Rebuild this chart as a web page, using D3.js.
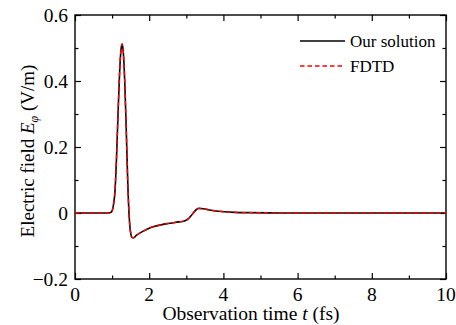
<!DOCTYPE html>
<html>
<head>
<meta charset="utf-8">
<script src="https://cdn.jsdelivr.net/npm/d3@7"></script>
<style>
  body { margin: 0; background: #fff; }
</style>
</head>
<body>
<svg id="chart" width="456" height="325" font-family="'Liberation Serif', Tinos, 'DejaVu Serif', serif"></svg>
<script>
const timeFs = [0, 0.5, 0.9, 0.98, 1.03, 1.08, 1.12, 1.16, 1.2, 1.24, 1.27, 1.3, 1.34, 1.38, 1.42, 1.46, 1.5, 1.54, 1.58, 1.65, 1.84, 2.0, 2.2, 2.5, 2.8, 2.95, 3.05, 3.15, 3.25, 3.33, 3.45, 3.6, 3.8, 4.0, 4.3, 4.7, 5.2, 6, 7, 8, 9, 10];
const ourSolution = [0, 0, 0, 0.003, 0.02, 0.07, 0.17, 0.3, 0.42, 0.495, 0.512, 0.49, 0.4, 0.26, 0.1, -0.01, -0.06, -0.074, -0.075, -0.068, -0.055, -0.046, -0.039, -0.032, -0.027, -0.024, -0.018, -0.005, 0.008, 0.014, 0.013, 0.01, 0.006, 0.004, 0.002, 0.001, 0.0005, 0, 0, 0, 0, 0];
const fdtd = [0, 0, 0, 0.003, 0.02, 0.07, 0.17, 0.3, 0.42, 0.495, 0.512, 0.49, 0.4, 0.26, 0.1, -0.01, -0.06, -0.074, -0.075, -0.068, -0.055, -0.046, -0.039, -0.032, -0.027, -0.024, -0.018, -0.005, 0.008, 0.014, 0.013, 0.01, 0.006, 0.004, 0.002, 0.001, 0.0005, 0, 0, 0, 0, 0];
const xTicks = [0, 2, 4, 6, 8, 10];
const yTicks = [-0.2, 0, 0.2, 0.4, 0.6];

const svg = d3.select('#chart');
const margin = { top: 15, right: 10, bottom: 46, left: 75 };
const width = +svg.attr('width');
const height = +svg.attr('height');

const x = d3.scaleLinear().domain([0, 10]).range([margin.left, width - margin.right]);
const y = d3.scaleLinear().domain([-0.2, 0.6]).range([height - margin.bottom, margin.top]);

const xMinor = d3.range(1, 10, 2);
const yMinor = [-0.1, 0.1, 0.3, 0.5];
const fmt = d => d === 0 ? '0' : d3.format('.1f')(d);

// inward ticks on all four sides
function tickAxis(axis, scale, values, size, transform) {
  svg.append('g')
    .attr('transform', transform)
    .call(axis(scale).tickValues(values).tickSize(size).tickFormat(''))
    .call(g => g.select('.domain').remove())
    .selectAll('line').attr('stroke', '#000').attr('stroke-width', 1.2);
}
const x0 = margin.left, x1 = width - margin.right;
const y0 = height - margin.bottom, y1 = margin.top;
tickAxis(d3.axisTop, x, xTicks, 6, `translate(0,${y0})`);
tickAxis(d3.axisTop, x, xMinor, 3.5, `translate(0,${y0})`);
tickAxis(d3.axisBottom, x, xTicks, 6, `translate(0,${y1})`);
tickAxis(d3.axisBottom, x, xMinor, 3.5, `translate(0,${y1})`);
tickAxis(d3.axisRight, y, yTicks, 6, `translate(${x0},0)`);
tickAxis(d3.axisRight, y, yMinor, 3.5, `translate(${x0},0)`);
tickAxis(d3.axisLeft, y, yTicks, 6, `translate(${x1},0)`);
tickAxis(d3.axisLeft, y, yMinor, 3.5, `translate(${x1},0)`);

svg.append('rect')
  .attr('x', x0).attr('y', y1)
  .attr('width', x1 - x0).attr('height', y0 - y1)
  .attr('fill', 'none').attr('stroke', '#000').attr('stroke-width', 1.4);

// tick labels
svg.append('g').selectAll('text')
  .data(xTicks).enter().append('text')
  .attr('x', d => x(d)).attr('y', y0 + 22)
  .attr('text-anchor', 'middle')
  .attr('font-size', 19.5)
  .text(d => d);

svg.append('g').selectAll('text')
  .data(yTicks).enter().append('text')
  .attr('x', x0 - 7).attr('y', d => y(d) + 7)
  .attr('text-anchor', 'end')
  .attr('font-size', 19.5)
  .text(fmt);

// axis titles
svg.append('text')
  .attr('x', 251).attr('y', 320)
  .attr('text-anchor', 'middle')
  .attr('font-size', 19.5)
  .html('Observation time <tspan font-style="italic">t</tspan> (fs)');

svg.append('text')
  .attr('transform', `translate(34,151) rotate(-90)`)
  .attr('text-anchor', 'middle')
  .attr('font-size', 19)
  .html('Electric field <tspan font-style="italic">E</tspan><tspan font-style="italic" font-size="12" dy="4">φ</tspan><tspan dy="-4"> (V/m)</tspan>');

// curves
const line = d3.line()
  .x((d, i) => x(timeFs[i]))
  .y(d => y(d))
  .curve(d3.curveMonotoneX);

svg.append('path')
  .datum(ourSolution)
  .attr('fill', 'none')
  .attr('stroke', '#000')
  .attr('stroke-width', 1.6)
  .attr('d', line);

svg.append('path')
  .datum(fdtd)
  .attr('fill', 'none')
  .attr('stroke', '#ff0000')
  .attr('stroke-width', 1.4)
  .attr('stroke-dasharray', '4.5,3')
  .attr('d', line);

// legend
const legend = [
  { label: 'Our solution', color: '#000', dash: null },
  { label: 'FDTD', color: '#ff0000', dash: '4.5,3' }
];
const lg = svg.append('g').attr('transform', 'translate(300,41)');
legend.forEach((d, i) => {
  const row = lg.append('g').attr('transform', `translate(0,${i * 25})`);
  row.append('line')
    .attr('x1', 0).attr('x2', 45)
    .attr('stroke', d.color).attr('stroke-width', 1.5)
    .attr('stroke-dasharray', d.dash);
  row.append('text')
    .attr('x', 50).attr('y', 6)
    .attr('font-size', 17)
    .text(d.label);
});
</script>
</body>
</html>
